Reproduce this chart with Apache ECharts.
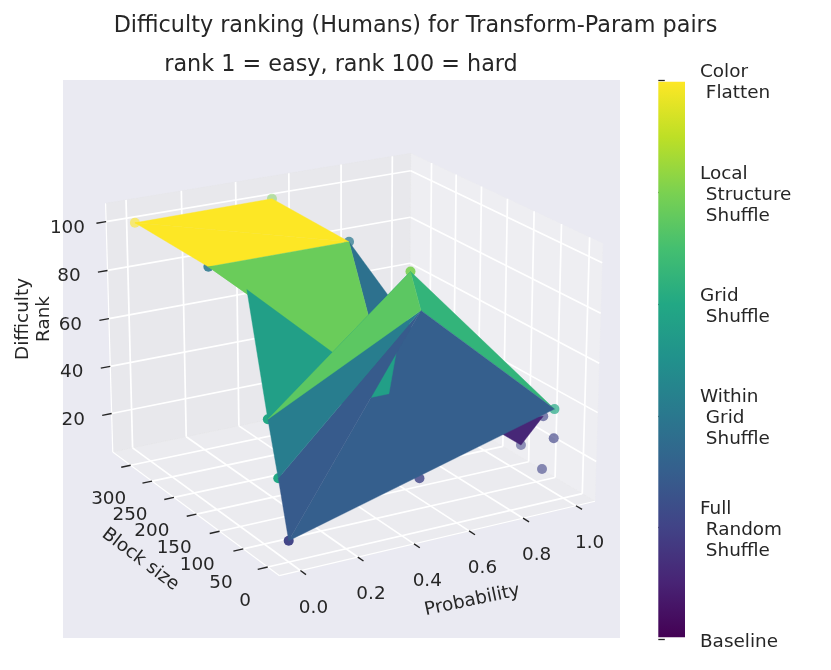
<!DOCTYPE html>
<html><head><meta charset="utf-8"><style>html,body{margin:0;background:#fff}#c{width:831px;height:670px}</style>
<script src="https://cdn.jsdelivr.net/npm/echarts@6/dist/echarts.min.js"></script></head><body><div id="c"></div>
<script>
// ---- data ----
const probTicks=[0,0.2,0.4,0.6,0.8,1.0];
const blockTicks=[0,50,100,150,200,250,300];
const rankTicks=[20,40,60,80,100];
const colorbarLevels=[0,20,40,60,80,100];
const colorbarLabels=['Baseline','Full\n Random\n Shuffle','Within\n Grid\n Shuffle','Grid\n Shuffle','Local\n Structure\n Shuffle','Color\n Flatten'];
// surface vertices
const vertexProb =[0.01,0.51,0.5,0,  0,  0,   0,  0, 0.59,0.515,0.5,1,   1, 1,   1];
const vertexBlock=[330, 328, 160,160,80, 40,  20, 0, 67,  48,   80, 20,  80,40,  160];
const vertexRank =[99.3,100, 100,100,100,54.5,34, 12,81,  100,  48, 37.7,15,32.2,15];
// triangles in painting order, with their colour level (0-1 of the colour scale)
const triangleA=[12,14, 0,0,3,3,4, 9,7, 5, 6,5,5];
const triangleB=[13,2,  1,2,4,2,5, 8,8, 10,7,6,9];
const triangleC=[14,10, 2,3,10,10,10,11,11,9, 8,8,8];
const triangleLevel=[0.11,0.37,1,1,0.77,0.77,0.56,0.65,0.3,0.56,0.285,0.42,0.745];
// scatter markers
const markerProb =[0.01,0.51,0.5,0,0.515,1,0,0,0,0.5,1,1,1,1];
const markerBlock=[330,328,160,160,48,20,40,20,0,20,80,40,20,40];
const markerRank =[99.3,100,100,100,100,37.7,54.5,34,12,21.5,15,10.2,25.7,32.2];
const markerLevel=[100,80,40,40,80,60,60,60,20,20,20,20,20,20];
const viridis=['#440154','#482475','#414487','#355f8d','#2a788e','#21918c','#22a884','#44bf70','#7ad151','#bddf26','#fde725'];

// ---- 3D view (perspective) ----
const xlim=[-0.073,1.073],ylim=[-23,343],zlim=[3.5,107.5];
const ELEV=20,AZIM=-120,DIST=10,box=[1.19,1.19,0.893];
const VIEW=[-0.095,0.09];
const e=ELEV*Math.PI/180,a=AZIM*Math.PI/180;
const CEN=box.map(v=>v/2);
const W=[Math.cos(e)*Math.cos(a),Math.cos(e)*Math.sin(a),Math.sin(e)];
const eye=CEN.map((v,i)=>v+DIST*W[i]);
const cross=(p,q)=>[p[1]*q[2]-p[2]*q[1],p[2]*q[0]-p[0]*q[2],p[0]*q[1]-p[1]*q[0]];
const dot=(p,q)=>p[0]*q[0]+p[1]*q[1]+p[2]*q[2];
const nrm=p=>{const l=Math.sqrt(dot(p,p));return p.map(v=>v/l)};
const U=nrm(cross([0,0,1],W)),Vv=cross(W,U);
function boxPt(x,y,z){return [(x-xlim[0])/(xlim[1]-xlim[0])*box[0],(y-ylim[0])/(ylim[1]-ylim[0])*box[1],(z-zlim[0])/(zlim[1]-zlim[0])*box[2]];}
function proj(x,y,z){const d=boxPt(x,y,z).map((v,i)=>v-eye[i]);const dp=-dot(W,d);return [dot(U,d)/dp,dot(Vv,d)/dp];}
function depth(x,y,z){const d=boxPt(x,y,z).map((v,i)=>v-eye[i]);return -dot(W,d);}
const [x0,x1]=xlim,[y0,y1]=ylim,[z0,z1]=zlim;

function hexRgb(h){return [1,3,5].map(i=>parseInt(h.substr(i,2),16));}
function viridisAt(t){const f=Math.max(0,Math.min(1,t))*10,i=Math.min(9,Math.floor(f)),r=f-i,p=hexRgb(viridis[i]),q=hexRgb(viridis[i+1]);return p.map((v,k)=>Math.round(v+(q[k]-v)*r));}
const FONT='"DejaVu Sans"',INK='#262626';

// generic helpers: each item is drawn through the hidden cartesian axes
function series(items,draw,z){
 return {type:'custom',coordinateSystem:'cartesian2d',xAxisIndex:0,yAxisIndex:0,silent:true,clip:false,z:z,animation:false,
  data:items.map((_,i)=>[i,0]),renderItem:(p,api)=>draw(items[p.dataIndex],api)};
}
const pt=(api,x,y,z)=>api.coord(proj(x,y,z));
const polyDraw=(it,api)=>({type:'polygon',shape:{points:it.p.map(q=>pt(api,q[0],q[1],q[2]))},style:{fill:it.c,stroke:it.c,lineWidth:0.4}});
const lineDraw=(it,api)=>{const p=pt(api,...it.a),q=pt(api,...it.b);return {type:'line',shape:{x1:p[0],y1:p[1],x2:q[0],y2:q[1]},style:{stroke:it.c,lineWidth:it.w}};};
const labelDraw=(it,api)=>{const p=pt(api,...it.at);return {type:'text',x:p[0]+it.dx,y:p[1]+it.dy,rotation:it.rot||0,style:{text:it.t,align:'center',verticalAlign:'middle',fill:INK,font:'18.4px '+FONT,lineHeight:21}};};

const panes=[
 {p:[[x1,y0,z0],[x1,y1,z0],[x1,y1,z1],[x1,y0,z1]],c:'rgba(242,242,242,0.5)'},
 {p:[[x0,y1,z0],[x1,y1,z0],[x1,y1,z1],[x0,y1,z1]],c:'rgba(230,230,230,0.5)'},
 {p:[[x0,y0,z0],[x1,y0,z0],[x1,y1,z0],[x0,y1,z0]],c:'rgba(236,236,236,0.5)'}
];
const GW='#ffffff',GLW=1.7;
let lines=[];
probTicks.forEach(v=>{lines.push({a:[v,y0,z0],b:[v,y1,z0],c:GW,w:GLW},{a:[v,y1,z0],b:[v,y1,z1],c:GW,w:GLW});});
blockTicks.forEach(v=>{lines.push({a:[x0,v,z0],b:[x1,v,z0],c:GW,w:GLW},{a:[x1,v,z0],b:[x1,v,z1],c:GW,w:GLW});});
rankTicks.forEach(v=>{lines.push({a:[x0,y1,v],b:[x1,y1,v],c:GW,w:GLW},{a:[x1,y1,v],b:[x1,y0,v],c:GW,w:GLW});});
lines.push({a:[x0,y0,z0],b:[x1,y0,z0],c:GW,w:1.2},{a:[x0,y0,z0],b:[x0,y1,z0],c:GW,w:1.2},{a:[x0,y1,z0],b:[x0,y1,z1],c:GW,w:1.2});
const XT=0.03*(x1-x0),YT=0.03*(y1-y0);
let ticks=[],labels=[];
probTicks.forEach(v=>{ticks.push({a:[v,y0,z0],b:[v,y0-YT,z0],c:INK,w:1.4});labels.push({at:[v,y0-YT,z0],dx:7.5,dy:33.5,t:v.toFixed(1)});});
blockTicks.forEach(v=>{ticks.push({a:[x0,v,z0],b:[x0-XT,v,z0],c:INK,w:1.4});labels.push({at:[x0-XT,v,z0],dx:-12.5,dy:32,t:String(v)});});
rankTicks.forEach(v=>{ticks.push({a:[x0,y1,v],b:[x0-XT,y1,v],c:INK,w:1.4});labels.push({at:[x0-XT,y1,v],dx:-29,dy:4.5,t:String(v)});});
labels.push({at:[x0,y0,z0],dx:-139,dy:-16,rot:-37*Math.PI/180,t:'Block size'});
labels.push({at:[x0,y0,z0],dx:193,dy:25,rot:12*Math.PI/180,t:'Probability'});
labels.push({at:[x0,y1,z0],dx:-79.5,dy:-133,rot:Math.PI/2,t:'Difficulty\nRank'});

const rgbStr=c=>'rgb('+c.join(',')+')';
const tris=triangleA.map((_,i)=>{const v=[triangleA[i],triangleB[i],triangleC[i]];
 return {p:v.map(k=>[vertexProb[k],vertexBlock[k],vertexRank[k]]),c:rgbStr(viridisAt(triangleLevel[i]))};});
const depths=markerProb.map((_,i)=>depth(markerProb[i],markerBlock[i],markerRank[i]));
const dMin=Math.min(...depths),dMax=Math.max(...depths);
const marks=markerProb.map((_,i)=>({pos:[markerProb[i],markerBlock[i],markerRank[i]],level:markerLevel[i],al:1-0.55*(depths[i]-dMin)/(dMax-dMin),d:depths[i]}));
marks.sort((p,q)=>q.d-p.d);
const markDraw=(it,api)=>{const p=pt(api,...it.pos);return {type:'circle',shape:{cx:p[0],cy:p[1],r:5},style:{fill:'rgba('+viridisAt(it.level/100).join(',')+','+it.al.toFixed(2)+')'}};};

const bar={type:'custom',coordinateSystem:'cartesian2d',xAxisIndex:1,yAxisIndex:1,silent:true,animation:false,z:2,data:[[0,0.35,1,99.8]],
 renderItem:(p,api)=>{const s=api.coord([api.value(0),api.value(1)]),t=api.coord([api.value(2),api.value(3)]);
  return {type:'rect',shape:{x:s[0],y:t[1],width:t[0]-s[0],height:s[1]-t[1]},style:{fill:new echarts.graphic.LinearGradient(0,1,0,0,viridis.map((c,i)=>({offset:i/10,color:c})))}};}};

echarts.init(document.getElementById('c')).setOption({
 animation:false,backgroundColor:'#ffffff',
 title:[
  {text:'Difficulty ranking (Humans) for Transform-Param pairs',left:410.5,top:10,textAlign:'center',textStyle:{fontFamily:FONT,fontSize:22.3,fontWeight:'normal',color:INK}},
  {text:'rank 1 = easy, rank 100 = hard',left:336,top:49,textAlign:'center',textStyle:{fontFamily:FONT,fontSize:22.3,fontWeight:'normal',color:INK}}
 ],
 grid:[{left:63,top:80,width:557,height:558,show:true,backgroundColor:'#EAEAF2',borderWidth:0},
       {left:658.3,top:80.7,width:26.7,height:558.6,show:false},
       {left:658.3,top:83.2,width:26.7,height:558.6,show:false}],
 xAxis:[{type:'value',gridIndex:0,min:VIEW[0],max:VIEW[1],show:false},{type:'value',gridIndex:1,min:0,max:1,show:false},{type:'value',gridIndex:2,min:0,max:1,show:false}],
 yAxis:[{type:'value',gridIndex:0,min:VIEW[0],max:VIEW[1],show:false},
  {type:'value',gridIndex:1,min:0,max:100,interval:20,position:'right',offset:1,
   axisLine:{show:false},splitLine:{show:false},axisTick:{show:true,length:6.5,lineStyle:{color:INK,width:1.3}},axisLabel:{show:false}},
  {type:'value',gridIndex:2,min:0,max:100,interval:20,position:'right',offset:1,
   axisLine:{show:false},splitLine:{show:false},axisTick:{show:false},
   axisLabel:{margin:14,color:INK,fontFamily:FONT,fontSize:18.4,lineHeight:21,align:'left',formatter:v=>colorbarLabels[colorbarLevels.indexOf(v)]}}],
 series:[series(panes,polyDraw,1),series(lines,lineDraw,2),series(ticks,lineDraw,3),series(labels,labelDraw,3),series(marks,markDraw,4),series(tris,polyDraw,5),bar]
});
</script></body></html>
